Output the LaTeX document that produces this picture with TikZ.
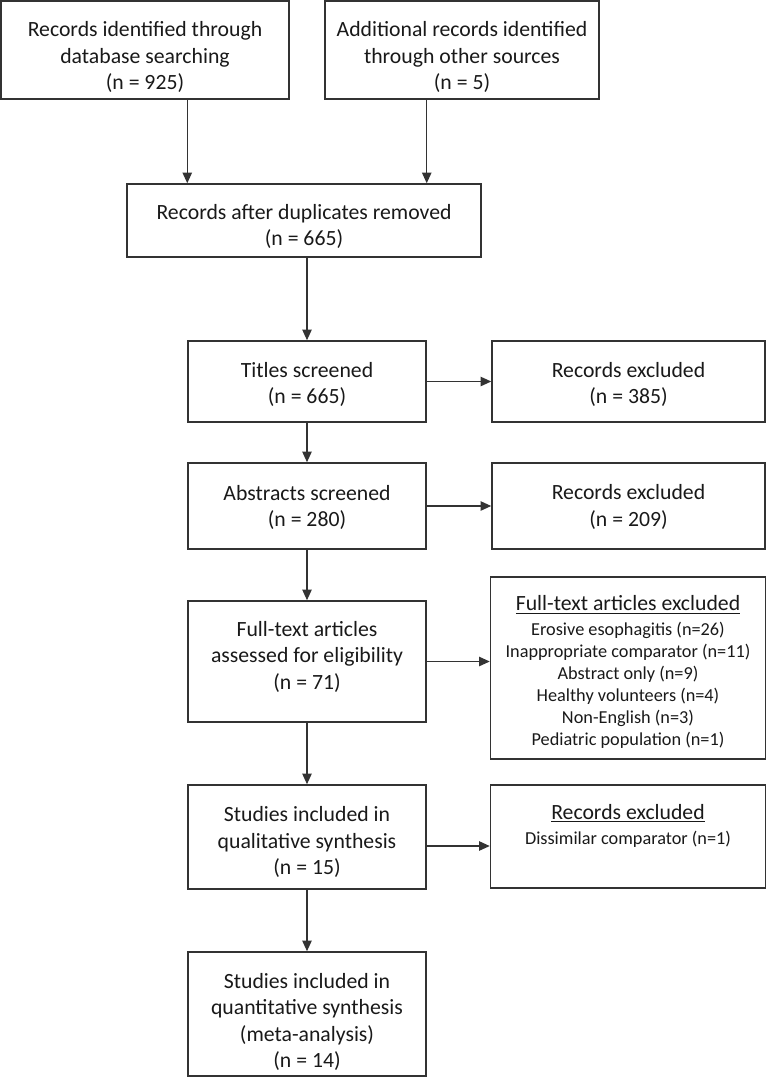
\documentclass[tikz,border=0pt]{standalone}
\usepackage{fontspec}
\setmainfont{Carlito}
\usetikzlibrary{arrows.meta}
\newcommand{\sm}{\fontsize{13.7pt}{16.4pt}\selectfont}
\newcommand{\bg}{\fontsize{16.3pt}{19.9pt}\selectfont}
\begin{document}
\begin{tikzpicture}[x=0.75pt,y=-0.75pt,
  box/.style={draw=black!80, line width=1.1pt, inner sep=0pt},
  big/.style={align=center, inner sep=0pt, font=\bg, text=black!90},
  small/.style={align=center, inner sep=0pt, font=\sm, text=black!90},
  arr/.style={draw=black!80, line width=1.1pt, -{Triangle[length=8pt,width=7pt]}}
]
\useasboundingbox (0,0) rectangle (767,1078);

% boxes
\node[box, minimum width=288*0.75pt, minimum height=98*0.75pt] (b1) at (145,50) {};
\node[box, minimum width=274*0.75pt, minimum height=98*0.75pt] (b2) at (462,50) {};
\node[box, minimum width=354*0.75pt, minimum height=73*0.75pt] (b3) at (304,220.5) {};
\node[box, minimum width=238*0.75pt, minimum height=81*0.75pt] (t) at (307,381.5) {};
\node[box, minimum width=273*0.75pt, minimum height=81*0.75pt] (x1) at (628.5,381.5) {};
\node[box, minimum width=238*0.75pt, minimum height=86*0.75pt] (a) at (307,506) {};
\node[box, minimum width=273*0.75pt, minimum height=86*0.75pt] (x2) at (628.5,506) {};
\node[box, minimum width=238*0.75pt, minimum height=121*0.75pt] (f) at (307,661.5) {};
\node[box, minimum width=275*0.75pt, minimum height=182*0.75pt] (fx) at (628,668) {};
\node[box, minimum width=238*0.75pt, minimum height=104*0.75pt] (q) at (307,837) {};
\node[box, minimum width=275*0.75pt, minimum height=103*0.75pt] (dx) at (628,836.5) {};
\node[box, minimum width=238*0.75pt, minimum height=124*0.75pt] (qt) at (307,1014) {};

% texts
\node[big] (b1t) at ([yshift=-5.25pt]b1.center)
  {Records identified through\\database searching\\(n = 925)};
\node[big] (b2t) at ([yshift=-5.25pt]b2.center)
  {Additional records identified\\through other sources\\(n = 5)};
\node[big] (b3t) at ([yshift=-4.5pt]b3.center)
  {Records after duplicates removed\\(n = 665)};
\node[big] (tt) at ([yshift=-2.25pt]t.center) {Titles screened\\(n = 665)};
\node[big] (x1t) at ([yshift=-2.25pt]x1.center) {Records excluded\\(n = 385)};
\node[big] (at) at ([yshift=-1.1pt]a.center) {Abstracts screened\\(n = 280)};
\node[big] (x2t) at ([yshift=-0.75pt]x2.center) {Records excluded\\(n = 209)};
\node[big] (ft) at ([yshift=3.75pt]f.center)
  {Full-text articles\\assessed for eligibility\\(n = 71)};
\node[small] (fxt) at ([yshift=-3pt]fx.center)
  {{\bg\underline{Full-text articles excluded}}\\[2.3pt]Erosive esophagitis (n=26)\\Inappropriate comparator (n=11)\\Abstract only (n=9)\\Healthy volunteers (n=4)\\Non-English (n=3)\\Pediatric population (n=1)};
\node[big] (qtx) at ([yshift=-3.75pt]q.center)
  {Studies included in\\qualitative synthesis\\(n = 15)};
\node[small] (dxt) at ([yshift=7.9pt]dx.center)
  {{\bg\underline{Records excluded}}\\[2.3pt]Dissimilar comparator (n=1)};
\node[big] (qtt) at ([yshift=-6pt]qt.center)
  {Studies included in\\quantitative synthesis\\(meta-analysis)\\(n = 14)};

% connectors
\draw[arr] (b1.south -| t.west) -- (b3.north -| t.west);
\draw[arr] (b2.south -| t.east) -- (b3.north -| t.east);
\draw[arr] (b3.south -| t.north) -- (t.north);
\draw[arr] (t.east) -- (x1.west);
\draw[arr] (t.south) -- (a.north);
\draw[arr] (a.east) -- (x2.west);
\draw[arr] (a.south) -- (f.north);
\draw[arr] (f.east) -- (f.east -| fx.west);
\draw[arr] (f.south) -- (q.north);
\draw[arr] ([yshift=-6.75pt]q.east) -- ([yshift=-6.75pt]q.east -| dx.west);
\draw[arr] (q.south) -- (qt.north);
\end{tikzpicture}
\end{document}
